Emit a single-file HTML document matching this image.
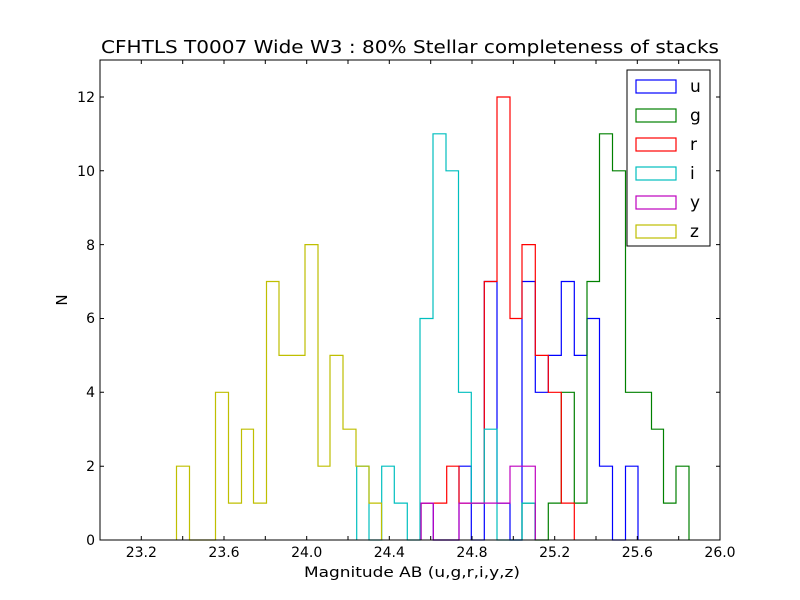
<!DOCTYPE html>
<html><head><style>body{margin:0;background:#fff}svg{display:block}text{font-family:"DejaVu Sans","Liberation Sans",sans-serif}</style></head>
<body>
<svg width="800" height="600" xmlns="http://www.w3.org/2000/svg">
<rect width="800" height="600" fill="#fff"/>
<g fill="none" stroke-width="1.2">
<path stroke="#0000ff" d="M421,540 V503.1 H433.3 V540 H459 V466.2 H471.3 V540 H484.3 V281.5 H497 V503.1 H510 V540 H522 V281.5 H535.3 V392.3 H548.3 V355.4 H561.3 V281.5 H574.3 V355.4 H587 V318.5 H599.5 V466.2 H612.5 V540 H625.5 V466.2 H638 V540"/>
<path stroke="#008000" d="M522,540 V503.1 H535.3 V540 H548.3 V503.1 H561.3 V392.3 H574.3 V503.1 H587 V281.5 H599.5 V133.8 H612.5 V170.8 H625.5 V392.3 H651.5 V429.2 H663.5 V503.1 H676 V466.2 H689 V540"/>
<path stroke="#ff0000" d="M421,540 V503.1 H446.7 V466.2 H459 V503.1 H484.3 V281.5 H497 V97 H510 V318.5 H522 V244.6 H535.3 V355.4 H548.3 V392.3 H561.3 V503.1 H574.3 V540"/>
<path stroke="#00bfbf" d="M356.7,540 V466.2 H369 V540 H381.7 V466.2 H394.3 V503.1 H407.3 V540 H420 V318.5 H433 V133.8 H446 V170.8 H458.5 V392.3 H471.3 V503.1 H484.3 V429.2 H497 V540 H522 V503.1 H535 V540"/>
<path stroke="#bf00bf" d="M421,540 V503.1 H433.3 V540 H459 V503.1 H510 V466.2 H535.3 V540"/>
<path stroke="#bfbf00" d="M176.5,540 V466.2 H189.5 V540 H215.5 V392.3 H228.5 V503.1 H241.5 V429.2 H253.5 V503.1 H266.5 V281.5 H279 V355.4 H305 V244.6 H318 V466.2 H330 V355.4 H343 V429.2 H356 V466.2 H369 V503.1 H381.5 V540"/>
</g>
<rect x="100" y="60" width="620" height="480" fill="none" stroke="#000" stroke-width="1"/>
<g stroke="#000" stroke-width="1">
<path d="M141.3,540v-4M182.7,540v-4M224,540v-4M265.3,540v-4M306.7,540v-4M348,540v-4M389.3,540v-4M430.7,540v-4M472,540v-4M513.3,540v-4M554.7,540v-4M596,540v-4M637.3,540v-4M678.7,540v-4"/>
<path d="M141.3,60v4M182.7,60v4M224,60v4M265.3,60v4M306.7,60v4M348,60v4M389.3,60v4M430.7,60v4M472,60v4M513.3,60v4M554.7,60v4M596,60v4M637.3,60v4M678.7,60v4"/>
<path d="M100,466.2h4M100,392.3h4M100,318.5h4M100,244.6h4M100,170.8h4M100,97h4M720,466.2h-4M720,392.3h-4M720,318.5h-4M720,244.6h-4M720,170.8h-4M720,97h-4"/>
</g>
<g font-size="14" text-anchor="middle" fill="#000">
<text x="141.3" y="557">23.2</text><text x="224" y="557">23.6</text><text x="306.7" y="557">24.0</text><text x="389.3" y="557">24.4</text><text x="472" y="557">24.8</text><text x="554.7" y="557">25.2</text><text x="637.3" y="557">25.6</text><text x="720" y="557">26.0</text>
</g>
<g font-size="14" text-anchor="end" fill="#000">
<text x="95" y="545">0</text><text x="95" y="471">2</text><text x="95" y="397">4</text><text x="95" y="323">6</text><text x="95" y="250">8</text><text x="95" y="176">10</text><text x="95" y="102">12</text>
</g>
<text x="410" y="53" font-size="18" text-anchor="middle" textLength="618" lengthAdjust="spacingAndGlyphs">CFHTLS T0007 Wide W3 : 80% Stellar completeness of stacks</text>
<text x="412" y="577" font-size="14" text-anchor="middle" textLength="216" lengthAdjust="spacingAndGlyphs">Magnitude AB (u,g,r,i,y,z)</text>
<text transform="translate(67,300) rotate(-90)" font-size="15" text-anchor="middle">N</text>
<rect x="627" y="70" width="83" height="176" fill="#fff" stroke="#000" stroke-width="1"/>
<g fill="none" stroke-width="1.2">
<rect x="636" y="80" width="40" height="13" stroke="#0000ff"/>
<rect x="636" y="109" width="40" height="13" stroke="#008000"/>
<rect x="636" y="138" width="40" height="13" stroke="#ff0000"/>
<rect x="636" y="167" width="40" height="13" stroke="#00bfbf"/>
<rect x="636" y="196" width="40" height="13" stroke="#bf00bf"/>
<rect x="636" y="225" width="40" height="13" stroke="#bfbf00"/>
</g>
<g font-size="17" fill="#000">
<text x="690" y="92">u</text><text x="690" y="121">g</text><text x="690" y="150">r</text><text x="690" y="179">i</text><text x="690" y="208">y</text><text x="690" y="237">z</text>
</g>
</svg>
</body></html>
